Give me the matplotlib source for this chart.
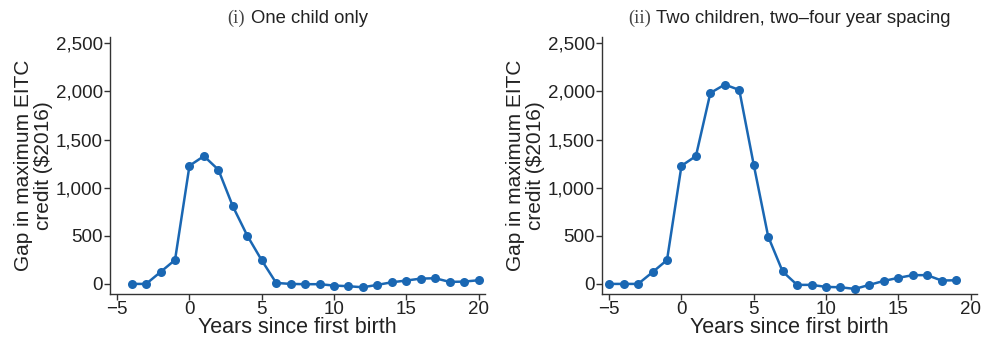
import matplotlib
matplotlib.use('Agg')
import matplotlib.pyplot as plt
from matplotlib.offsetbox import TextArea, HPacker, AnchoredOffsetbox
import numpy as np

# Data
years_one = list(range(-4, 21))
gap_one = [0, 0, 124, 249, 1228, 1328, 1186, 806, 501, 245, 10, 0, -3, -3,
           -17, -24, -35, -10, 17, 35, 55, 59, 21, 24, 38]

years_two = list(range(-5, 20))
gap_two = [0, 0, 0, 122, 248, 1227, 1328, 1984, 2071, 2015, 1238, 492, 129,
           -10, -10, -31, -35, -52, -10, 31, 63, 91, 91, 35, 38]

panel_tags = ['(i)', '(ii)']
titles = ['One child only', 'Two children, two\u2013four year spacing']
yticks = [0, 500, 1000, 1500, 2000, 2500]
xticks = [-5, 0, 5, 10, 15, 20]

line_color = '#1a67b3'
axis_color = '#333333'
text_color = '#222222'

plt.rcParams['font.family'] = ['Liberation Sans', 'DejaVu Sans']

fig = plt.figure(figsize=(9.83, 3.44), dpi=100)
ax1 = fig.add_axes([0.1119, 0.1453, 0.3815, 0.7471])
ax2 = fig.add_axes([0.6124, 0.1453, 0.3815, 0.7471])

for ax, xs, ys, tag, title in zip([ax1, ax2], [years_one, years_two],
                                  [gap_one, gap_two], panel_tags, titles):
    ax.plot(xs, ys, color=line_color, linewidth=1.8, marker='o',
            markersize=6.5, markeredgewidth=0)
    ax.set_xlim(-5.5, 20.45)
    ax.set_ylim(-105, 2565)
    ax.set_xticks(xticks)
    ax.set_xticklabels(['\u22125', '0', '5', '10', '15', '20'])
    ax.set_yticks(yticks)
    ax.set_yticklabels([f'{v:,}' for v in yticks])
    for side in ['top', 'right']:
        ax.spines[side].set_visible(False)
    for side in ['left', 'bottom']:
        ax.spines[side].set_color(axis_color)
        ax.spines[side].set_linewidth(1.0)
    ax.tick_params(axis='both', colors=axis_color, labelcolor=text_color,
                   labelsize=13.5, length=4, width=1.0, pad=1)
    ax.set_xlabel('Years since first birth', fontsize=15.5, color=text_color,
                  labelpad=-1)
    ax.set_ylabel('Gap in maximum EITC\ncredit (\\$2016)', fontsize=15,
                  color=text_color, labelpad=2, linespacing=1.1)

    # title: serif panel tag followed by sans text
    tag_area = TextArea(tag, textprops=dict(family='Liberation Serif',
                                            fontsize=13.3, color='#444444'))
    txt_area = TextArea(title, textprops=dict(fontsize=13.3, color=text_color))
    box = HPacker(children=[tag_area, txt_area], align='baseline', pad=0, sep=4)
    anchored = AnchoredOffsetbox(loc='lower center', child=box, pad=0,
                                 frameon=False, bbox_to_anchor=(0.5, 1.04),
                                 bbox_transform=ax.transAxes, borderpad=0)
    ax.add_artist(anchored)

plt.savefig('out.png', dpi=100)
plt.close()
